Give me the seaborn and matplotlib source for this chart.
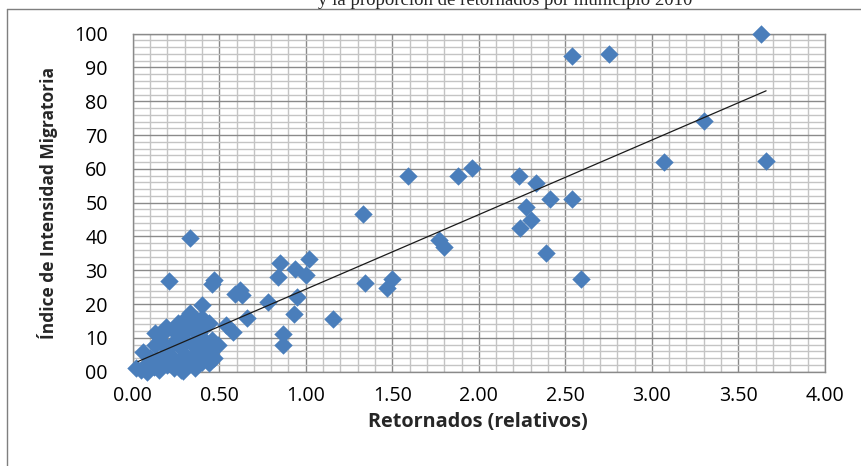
import matplotlib
matplotlib.use("Agg")
import matplotlib.pyplot as plt
import numpy as np
import pandas as pd
import seaborn as sns
from matplotlib.lines import Line2D
from matplotlib.ticker import MultipleLocator, FixedFormatter, FixedLocator

# Retornados (relativos) vs Indice de Intensidad Migratoria, por municipio
retornados_sueltos = [3.63, 2.54, 2.75, 3.30, 3.66, 3.07, 1.59, 1.88, 1.96, 2.23,
                      2.33, 2.41, 2.54, 2.27, 2.30, 2.24, 1.77, 1.80, 2.39, 2.59,
                      1.33, 0.33, 0.21, 0.47, 0.46, 0.85, 0.84, 0.94, 1.00, 1.02,
                      1.34, 1.50, 1.47, 0.59, 0.63, 0.62, 0.78, 0.95, 0.93, 0.66,
                      1.16, 0.58, 0.87, 0.87, 0.40, 0.06]
indice_sueltos = [100.0, 93.3, 94.0, 74.2, 62.3, 62.0, 57.8, 57.8, 60.3, 57.8,
                  55.7, 51.2, 51.2, 48.7, 44.8, 42.4, 38.9, 36.8, 35.0, 27.4,
                  46.6, 39.6, 26.8, 27.2, 25.9, 32.3, 28.0, 30.5, 28.6, 33.2,
                  26.3, 27.4, 24.8, 23.0, 22.7, 24.2, 20.5, 22.1, 17.1, 16.0,
                  15.6, 11.8, 11.2, 7.9, 19.6, 5.9]

# nube de municipios con pocos retornados
retornados_nube = [0.02, 0.05, 0.08, 0.12, 0.15, 0.20, 0.24, 0.28, 0.32, 0.36,
                   0.40, 0.44, 0.47, 0.10, 0.14, 0.18, 0.22, 0.26, 0.30, 0.34,
                   0.38, 0.42, 0.46, 0.13, 0.16, 0.19, 0.23, 0.27, 0.31, 0.35,
                   0.39, 0.43, 0.46, 0.13, 0.18, 0.19, 0.24, 0.28, 0.30, 0.34,
                   0.38, 0.42, 0.26, 0.30, 0.33, 0.36, 0.40, 0.44, 0.54, 0.49,
                   0.45, 0.29, 0.09]
indice_nube = [1.0, 0.5, 0.0, 1.5, 0.5, 2.0, 1.0, 0.5, 2.0, 1.0,
               3.0, 2.5, 4.0, 4.0, 3.5, 5.0, 4.5, 3.0, 5.0, 4.0,
               6.0, 5.0, 7.0, 8.0, 9.5, 7.0, 8.5, 7.5, 9.0, 8.0,
               10.0, 8.5, 9.4, 11.4, 11.8, 13.3, 12.0, 11.0, 13.0, 12.5,
               11.5, 13.5, 14.3, 15.5, 17.3, 15.0, 16.0, 14.5, 13.8, 7.9,
               4.4, 0.3, 2.5]

# linea de tendencia (lineal)
tendencia_x = [0.03, 3.66]
tendencia_y = [3.0, 83.1]

x_ticks = [0.0, 0.5, 1.0, 1.5, 2.0, 2.5, 3.0, 3.5, 4.0]
y_ticks = [0, 10, 20, 30, 40, 50, 60, 70, 80, 90, 100]
y_tick_labels = ["00", "10", "20", "30", "40", "50", "60", "70", "80", "90", "100"]

d = pd.DataFrame({
    "retornados": retornados_sueltos + retornados_nube,
    "indice": indice_sueltos + indice_nube,
})

sns.set_style("white")
plt.rcParams["font.family"] = ["Open Sans", "DejaVu Sans"]

fig = plt.figure(figsize=(8.62, 4.66), dpi=100)
ax = fig.add_axes([0.154, 0.2024, 0.803, 0.7253])
renderer = fig.canvas.get_renderer()


def size_for(text, target_px, weight="normal", family=None, vertical=False):
    # tamaño de letra para que el texto ocupe target_px pixeles
    t = fig.text(0, 0, text, fontsize=10, fontweight=weight,
                 family=family or plt.rcParams["font.family"],
                 rotation=90 if vertical else 0)
    bb = t.get_window_extent(renderer)
    t.remove()
    return 10 * target_px / (bb.height if vertical else bb.width)


tick_size = size_for("1.50", 39)
label_size = size_for("Retornados (relativos)", 220, weight="bold")
ylabel_size = size_for("Índice de Intensidad Migratoria", 272, weight="bold", vertical=True)
title_size = size_for("y la proporción de retornados por municipio 2010", 374,
                      family="Liberation Serif")

major_c = "#8a8a8a"
minor_c = "#c4c4c4"

ax.set_xlim(0, 4)
ax.set_ylim(0, 100)
ax.xaxis.set_major_locator(FixedLocator(x_ticks))
ax.xaxis.set_minor_locator(MultipleLocator(0.1))
ax.yaxis.set_major_locator(FixedLocator(y_ticks))
ax.yaxis.set_minor_locator(MultipleLocator(2))
ax.yaxis.set_major_formatter(FixedFormatter(y_tick_labels))
ax.set_xticklabels([f"{v:.2f}" for v in x_ticks])

ax.grid(True, which="minor", color=minor_c, linewidth=1.0)
ax.grid(True, which="major", color=major_c, linewidth=1.0)
ax.set_axisbelow(True)

for s in ax.spines.values():
    s.set_color(major_c)
    s.set_linewidth(1.0)

ax.tick_params(axis="both", which="major", length=6, color=major_c,
               labelsize=tick_size, labelcolor="#000000")
ax.tick_params(axis="x", which="major", pad=4)
ax.tick_params(axis="y", which="major", pad=12)
ax.tick_params(axis="both", which="minor", length=0)

sns.scatterplot(data=d, x="retornados", y="indice", marker="D", s=88,
                color="#4a7ebb", linewidth=0, ax=ax, zorder=3, clip_on=False)
sns.lineplot(x=tendencia_x, y=tendencia_y, color="#1a1a1a", linewidth=0.9,
             ax=ax, zorder=4)

ax.set_xlabel("Retornados (relativos)", fontsize=label_size, fontweight="bold")
ax.set_ylabel("Índice de Intensidad Migratoria", fontsize=ylabel_size, fontweight="bold")
ax.xaxis.label.set_va("center")
ax.yaxis.label.set_va("center")
ax.xaxis.set_label_coords(0.499, (371.7 - 422) / 338)
ax.yaxis.set_label_coords((48 - 132.8) / 692, 0.5)

# borde del area del grafico
fig.add_artist(Line2D([7 / 862, 7 / 862], [0, 1 - 9 / 466], color="#7f7f7f",
                      linewidth=1.0, transform=fig.transFigure))
fig.add_artist(Line2D([7 / 862, 1], [1 - 9 / 466, 1 - 9 / 466], color="#7f7f7f",
                      linewidth=1.0, transform=fig.transFigure))

fig.text(505 / 862, 1 - 5 / 466, "y la proporción de retornados por municipio 2010",
         ha="center", va="baseline", fontsize=title_size, family="Liberation Serif")

fig.savefig("out.png", dpi=100)
